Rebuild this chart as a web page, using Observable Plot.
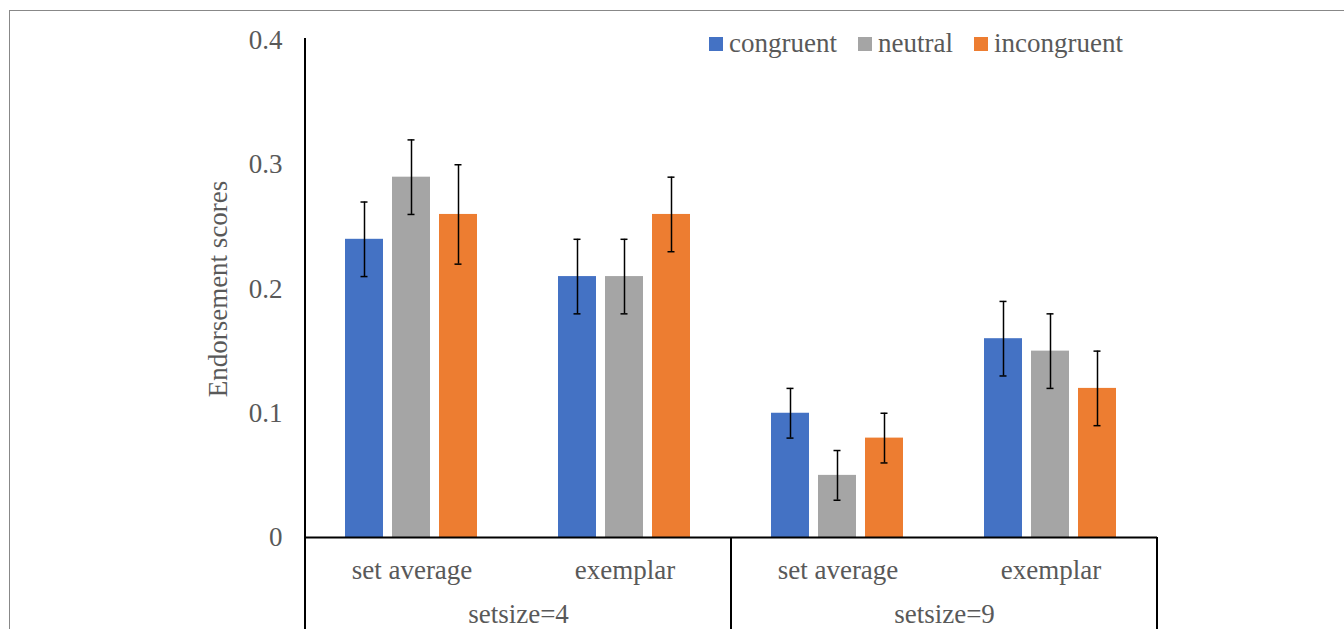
<!DOCTYPE html>
<html><head><meta charset="utf-8">
<script src="https://cdn.jsdelivr.net/npm/d3@7"></script>
<script src="https://cdn.jsdelivr.net/npm/@observablehq/plot@0.6"></script>
<style>
body{margin:0;background:#fff;}
#wrap{position:relative;width:1344px;height:629px;overflow:hidden;font-family:"Liberation Serif","Times New Roman",serif;}
#frame{position:absolute;left:9px;top:10px;width:1400px;height:700px;border-top:1.5px solid #888;border-left:1.5px solid #888;pointer-events:none;}
#legend{position:absolute;top:28px;left:709px;display:flex;align-items:center;font-size:27px;line-height:31px;color:#595959;white-space:nowrap;}
.item{display:flex;align-items:center;margin-right:21px;}
.sw{width:14px;height:14px;margin-right:6px;}
#chart{position:absolute;left:0;top:0;}
</style></head><body>
<div id="wrap"><div id="frame"></div><div id="chart"></div><div id="legend"></div></div>
<script>
const setsizes = ["setsize=4", "setsize=9"];
const types = ["set average", "exemplar"];
const conditions = ["congruent", "neutral", "incongruent"];
const colors = ["#4472C4", "#A5A5A5", "#ED7D31"];
const congruentMeans = [0.24, 0.21, 0.10, 0.16];
const neutralMeans = [0.29, 0.21, 0.05, 0.15];
const incongruentMeans = [0.26, 0.26, 0.08, 0.12];
const congruentErr = [0.03, 0.03, 0.02, 0.03];
const neutralErr = [0.03, 0.03, 0.02, 0.03];
const incongruentErr = [0.04, 0.03, 0.02, 0.03];
const yTicks = [0, 0.1, 0.2, 0.3, 0.4];

const FONT = '"Liberation Serif","Times New Roman",serif';
const groupKeys = setsizes.flatMap(s => types.map(t => s + "|" + t));
const meanSeries = [congruentMeans, neutralMeans, incongruentMeans];
const errSeries = [congruentErr, neutralErr, incongruentErr];
const rows = [];
conditions.forEach((c, ci) => {
  groupKeys.forEach((g, gi) => {
    const v = meanSeries[ci][gi], e = errSeries[ci][gi];
    rows.push({group: g, condition: c, value: v, lo: v - e, hi: v + e});
  });
});
const setsizeLabels = setsizes.map(s => ({group: s + "|" + types[0], label: s}));

const chart = Plot.plot({
  width: 1344, height: 629,
  marginLeft: 305, marginRight: 187, marginTop: 40, marginBottom: 92,
  style: {fontFamily: FONT, fontSize: "27px", color: "#595959", background: "transparent", overflow: "visible"},
  fx: {domain: groupKeys, padding: 0, label: null},
  x: {domain: conditions, paddingInner: 0.19, paddingOuter: 0.86, axis: null},
  y: {domain: [0, 0.4]},
  color: {domain: conditions, range: colors},
  marks: [
    Plot.axisFx({anchor: "bottom", tickSize: 0, tickPadding: 22, fontSize: 27, tickFormat: k => k.split("|")[1], label: null}),
    Plot.axisY({ticks: yTicks, tickSize: 0, tickPadding: 23, fontSize: 27, label: "Endorsement scores", labelAnchor: "center", labelArrow: "none", labelOffset: 98, tickFormat: d => d === 0 ? "0" : d3.format(".1f")(d)}),
    Plot.barY(rows, {fx: "group", x: "condition", y: "value", fill: "condition"}),
    Plot.ruleX(rows, {fx: "group", x: "condition", y1: "lo", y2: "hi", stroke: "#000", strokeWidth: 1.5}),
    Plot.tickY(rows, {fx: "group", x: "condition", y: "lo", stroke: "#000", strokeWidth: 1.5, insetLeft: 15.5, insetRight: 15.5}),
    Plot.tickY(rows, {fx: "group", x: "condition", y: "hi", stroke: "#000", strokeWidth: 1.5, insetLeft: 15.5, insetRight: 15.5}),
    Plot.ruleY([0], {stroke: "#000", strokeWidth: 2}),
    Plot.text(setsizeLabels, {fx: "group", text: "label", frameAnchor: "bottom-right", lineAnchor: "middle", textAnchor: "middle", dy: 77, fontSize: 27, fill: "currentColor"})
  ]
});

// category frame lines positioned from the chart's own scales
const fx = chart.scale("fx"), y = chart.scale("y");
const svg = d3.select(chart);
const lines = [
  {x: fx.apply(groupKeys[0]), y1: y.apply(0.4) - 2, y2: 629},
  {x: fx.apply(groupKeys[2]), y1: y.apply(0), y2: 629},
  {x: fx.apply(groupKeys[3]) + fx.bandwidth, y1: y.apply(0), y2: 629}
];
svg.append("g").selectAll("line").data(lines).join("line")
  .attr("x1", d => d.x).attr("x2", d => d.x)
  .attr("y1", d => d.y1).attr("y2", d => d.y2)
  .attr("stroke", "#000").attr("stroke-width", 2);

document.getElementById("chart").appendChild(chart);

const legend = d3.select("#legend");
conditions.forEach((c, i) => {
  const it = legend.append("div").attr("class", "item");
  it.append("div").attr("class", "sw").style("background", colors[i]);
  it.append("span").text(c);
});
</script>
</body></html>
